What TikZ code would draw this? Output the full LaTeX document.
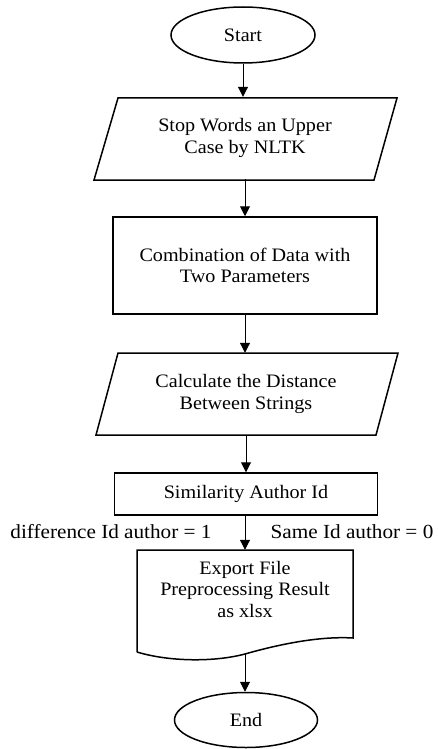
\documentclass[tikz,border=0pt]{standalone}
\usepackage{fontspec}
\setmainfont{Liberation Serif}[FakeStretch=1.06]
\usetikzlibrary{shapes.geometric,arrows.meta}
\begin{document}
\begin{tikzpicture}[x=1pt,y=-1pt,
  box/.style={line width=1.5pt},
  txt/.style={align=center,inner sep=0pt,font=\fontsize{19}{21.5}\selectfont},
  term/.style={draw,ellipse,line width=1.5pt,inner sep=0pt,font=\fontsize{19}{21.5}\selectfont},
  lbl/.style={inner sep=0pt,font=\fontsize{20}{22}\selectfont},
  arr/.style={line width=1pt,-{Triangle[width=10pt,length=10pt]}}]
\useasboundingbox (0,0) rectangle (438,749);
% Start
\node[term,minimum width=144pt,minimum height=56pt] (start) at (243,35) {Start};
% parallelogram 1
\draw[box] (118,98) -- (397,98) -- (374,180) -- (94,180) -- cycle;
\node[txt,minimum height=82pt] (p1) at (245,138) {Stop Words an Upper\\Case by NLTK};
% rect 2
\node[txt,draw,box,minimum width=264pt,minimum height=97pt] (r2) at (245,265.5) {Combination of Data with\\Two Parameters};
% parallelogram 2
\draw[box] (118,353) -- (398,353) -- (376,435) -- (96,435) -- cycle;
\node[txt,minimum height=82pt] (p2) at (246,394) {Calculate the Distance\\Between Strings};
% rect 3
\node[txt,draw,box,minimum width=263pt,minimum height=42pt] (r3) at (246,494) {Similarity Author Id};
% labels
\node[lbl] (l1) at (111,532) {difference Id author = 1};
\node[lbl] (l2) at (352,532) {Same Id author = 0};
% document
\draw[box] (137,652) -- (137,550) -- (353,550) -- (353,638)
  .. controls (320,636) and (280,644) .. (245,654)
  .. controls (215,662) and (170,662) .. (137,652);
\node[txt,minimum height=88pt] (doc) at (245,594) {};
\node[txt] (doct) at (245,589) {Export File\\Preprocessing Result\\as xlsx};
\coordinate (docb) at (245,654);
% End
\node[term,minimum width=143pt,minimum height=55pt] (end) at (246,720) {End};
% arrows
\draw[arr] (start.south) -- (start.south |- p1.north);
\draw[arr] (p1.south) -- (r2.north -| p1.south);
\draw[arr] (r2.south) -- (p2.north -| r2.south);
\draw[arr] (p2.south) -- (r3.north -| p2.south);
\draw[arr] (r3.south -| doc.north) -- (doc.north);
\draw[arr] (docb) -- (end.north -| docb);
\end{tikzpicture}
\end{document}
